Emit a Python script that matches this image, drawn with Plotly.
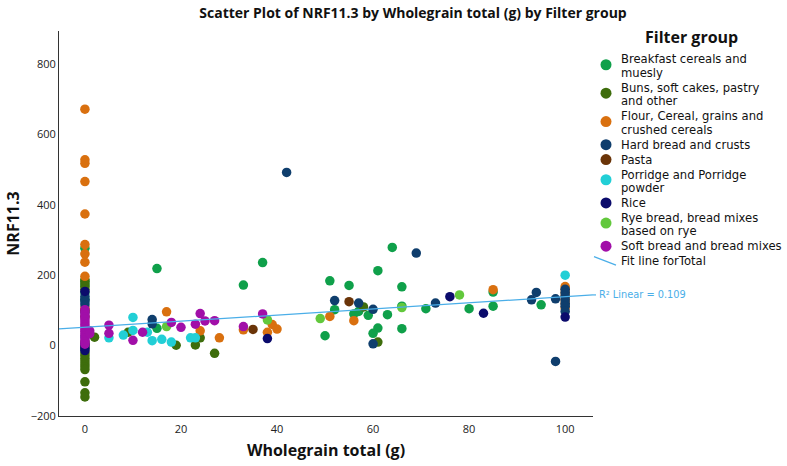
import plotly.graph_objects as go

# ---------------- data ----------------
groups = [
    "Breakfast cereals and muesly",
    "Buns, soft cakes, pastry and other",
    "Flour, Cereal, grains and crushed cereals",
    "Hard bread and crusts",
    "Pasta",
    "Porridge and Porridge powder",
    "Rice",
    "Rye bread, bread mixes based on rye",
    "Soft bread and bread mixes",
]
legend_lines = [
    ["Breakfast cereals and", "muesly"],
    ["Buns, soft cakes, pastry", "and other"],
    ["Flour, Cereal, grains and", "crushed cereals"],
    ["Hard bread and crusts"],
    ["Pasta"],
    ["Porridge and Porridge", "powder"],
    ["Rice"],
    ["Rye bread, bread mixes", "based on rye"],
    ["Soft bread and bread mixes"],
]
colors = ["#0fa04a", "#3e6d0c", "#d9700f", "#0f3e6d", "#6a3408",
          "#22cfd6", "#0b0b6c", "#62c83c", "#a10fa8"]

breakfast_x = [0, 0, 0, 0, 0, 0, 15, 15, 33, 37, 51, 55, 64, 61, 66, 52, 50, 56, 57,
               59, 63, 61, 60, 66, 66, 71, 80, 85, 85, 95]
breakfast_y = [277, 183, 172, 150, 130, 95, 219, 49, 172, 236, 184, 171, 279, 213, 167,
               102, 28, 90, 97, 86, 88, 50, 35, 112, 48, 105, 105, 152, 112, 116]

buns_x = [0] * 17 + [2, 9, 19, 24, 23, 27, 58, 61]
buns_y = [187, 178, 168, 160, 10, 2, -8, -20, -28, -36, -44, -52, -60, -68, -103, -134,
          -146, 24, 38, 1, 22, 2, -22, 110, 10]

flour_x = [0] * 10 + [17, 24, 28, 33, 38, 39, 40, 51, 56, 85] + [100] * 7
flour_y = [672, 528, 518, 466, 374, 287, 261, 237, 197, 107,
           96, 42, 22, 45, 38, 60, 47, 83, 71, 159,
           168, 160, 150, 140, 130, 120, 107]

hard_x = [0, 0, 0, 0, 14, 14, 42, 52, 57, 60, 60, 69, 73, 93, 94, 98, 98] + [100] * 7
hard_y = [140, 132, 124, 116, 74, 62, 492, 128, 121, 103, 5, 263, 121, 130, 151, 133, -45,
          160, 150, 140, 130, 120, 112, 97]

pasta_x = [0, 0, 35, 55]
pasta_y = [100, 82, 46, 125]

porridge_x = [0, 5, 8, 10, 10, 13, 14, 16, 18, 22, 23, 100]
porridge_y = [25, 22, 30, 80, 43, 38, 14, 18, 10, 22, 22, 200]

rice_x = [0, 0, 0, 0, 38, 76, 83, 100]
rice_y = [154, 3, -6, -14, 20, 139, 92, 81]

rye_x = [17, 38, 49, 66, 78]
rye_y = [54, 73, 77, 108, 144]

soft_x = [0] * 16 + [1, 1, 5, 5, 10, 12, 18, 20, 23, 24, 25, 27, 33, 37]
soft_y = [102, 95, 88, 81, 74, 67, 60, 53, 46, 40, 34, 28, 22, 16, 10, 4,
          42, 34, 58, 35, 15, 38, 66, 52, 61, 91, 70, 71, 54, 90]

series_x = [breakfast_x, buns_x, flour_x, hard_x, pasta_x, porridge_x, rice_x, rye_x, soft_x]
series_y = [breakfast_y, buns_y, flour_y, hard_y, pasta_y, porridge_y, rice_y, rye_y, soft_y]

fit_intercept = 52.0
fit_slope = 0.87
r2_text = "R\u00b2 Linear = 0.109"

x_ticks = [0, 20, 40, 60, 80, 100]
y_ticks = [-200, 0, 200, 400, 600, 800]
x_range = [-5.4, 105.8]
y_range = [-200, 894]

# ---------------- layout geometry (pixels) ----------------
W, H = 787, 466
L, R, T, B = 59, 593, 31, 416
PW, PH = R - L, B - T


def pxx(px):
    return (px - L) / PW


def pxy(py):
    return (B - py) / PH


FONT = "Open Sans"
LFONT = "DejaVu Sans"
FIT_COLOR = "#4aaee8"

fig = go.Figure()
for name, xs, ys, c in zip(groups, series_x, series_y, colors):
    fig.add_trace(go.Scatter(
        x=xs, y=ys, mode="markers", name=name,
        marker=dict(color=c, size=9.5, line=dict(width=0)),
        showlegend=False,
    ))

fx = list(x_range)
fy = [fit_intercept + fit_slope * v for v in fx]
fig.add_trace(go.Scatter(x=fx, y=fy, mode="lines", name="Fit line forTotal",
                         line=dict(color=FIT_COLOR, width=1.2), showlegend=False,
                         hoverinfo="skip"))

annotations = []
shapes = []

# legend title
annotations.append(dict(text="<b>Filter group</b>", x=pxx(691), y=pxy(37),
                        xref="paper", yref="paper", xanchor="center", yanchor="middle",
                        showarrow=False, borderpad=0,
                        font=dict(family=FONT, size=16, color="#111")))

# legend entries
intra = 13.5
inter = 14.9
y_cursor = 59.5
for lines, c in zip(legend_lines, colors):
    n = len(lines)
    for i, t in enumerate(lines):
        annotations.append(dict(text=t, x=pxx(620), y=pxy(y_cursor + i * intra),
                                xref="paper", yref="paper", xanchor="left", yanchor="middle",
                                showarrow=False, borderpad=0,
                                font=dict(family=LFONT, size=11.6, color="#111")))
    my = y_cursor + (n - 1) * intra / 2 - (1.5 if n > 1 else 0)
    r = 5.5
    shapes.append(dict(type="circle", xref="paper", yref="paper",
                       x0=pxx(606 - r), x1=pxx(606 + r), y0=pxy(my + r), y1=pxy(my - r),
                       fillcolor=c, line=dict(width=0)))
    y_cursor += (n - 1) * intra + inter

# fit line legend entry
annotations.append(dict(text="Fit line forTotal", x=pxx(620), y=pxy(y_cursor),
                        xref="paper", yref="paper", xanchor="left", yanchor="middle",
                        showarrow=False, borderpad=0,
                        font=dict(family=LFONT, size=11.6, color="#111")))
shapes.append(dict(type="line", xref="paper", yref="paper",
                   x0=pxx(594), y0=pxy(y_cursor - 4.5), x1=pxx(616), y1=pxy(y_cursor + 4),
                   line=dict(color=FIT_COLOR, width=1.2)))

# R2 label with leader
y_end = fit_intercept + fit_slope * x_range[1]
shapes.append(dict(type="line", xref="paper", yref="y", x0=1.0, x1=pxx(596),
                   y0=y_end, y1=y_end, line=dict(color=FIT_COLOR, width=1.2)))
annotations.append(dict(text=r2_text, x=pxx(598), y=y_end, xref="paper", yref="y",
                        xanchor="left", yanchor="middle", showarrow=False, borderpad=0,
                        font=dict(family=LFONT, size=9.8, color=FIT_COLOR)))

fig.update_layout(
    width=W, height=H,
    margin=dict(l=L, r=W - R, t=T, b=H - B),
    paper_bgcolor="white", plot_bgcolor="white",
    title=dict(text="<b>Scatter Plot of NRF11.3 by Wholegrain total (g) by Filter group</b>",
               x=413 / W, xanchor="center", y=1 - 13 / H, yanchor="middle",
               font=dict(family=FONT, size=14, color="#111")),
    xaxis=dict(range=x_range, tickvals=x_ticks, showgrid=False, zeroline=False,
               showline=True, linecolor="#333", linewidth=1, ticks="",
               automargin=False, ticklabelstandoff=3,
               tickfont=dict(family=FONT, size=11, color="#222"),
               title=dict(text="<b>Wholegrain total (g)</b>", standoff=9,
                          font=dict(family=FONT, size=16, color="#111"))),
    yaxis=dict(range=y_range, tickvals=y_ticks, showgrid=False, zeroline=False,
               showline=True, linecolor="#333", linewidth=1, ticks="",
               automargin=False,
               tickfont=dict(family=FONT, size=11, color="#222"),
               title=dict(text="<b>NRF11.3</b>", standoff=7,
                          font=dict(family=FONT, size=16, color="#111"))),
    annotations=annotations, shapes=shapes,
    showlegend=False,
)

fig.write_html("out.html")
